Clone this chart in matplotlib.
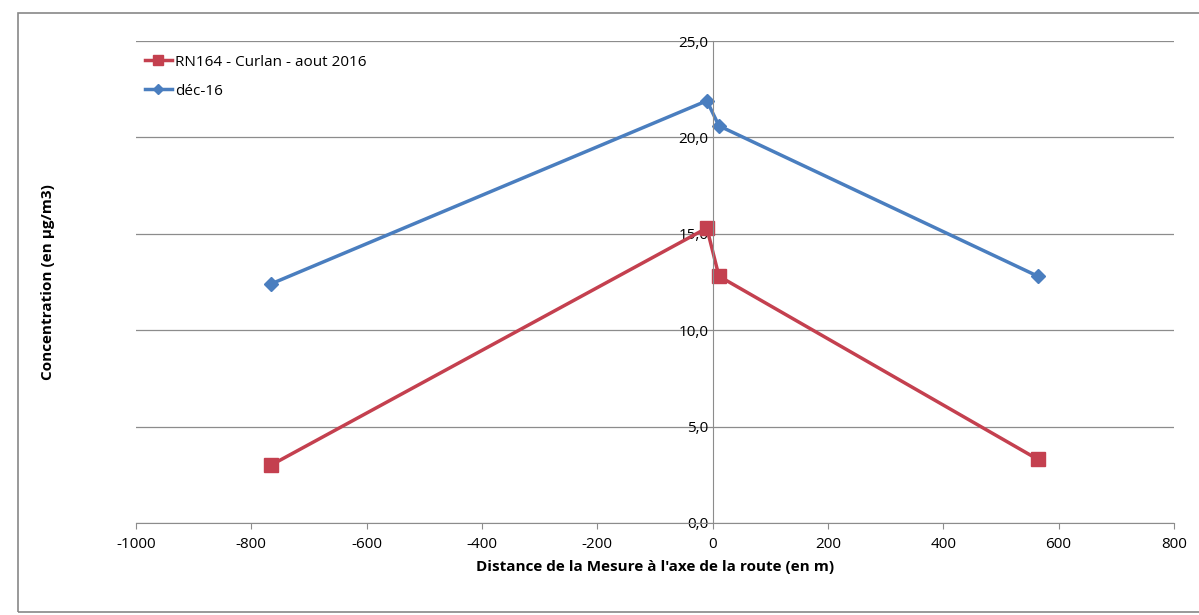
import matplotlib.pyplot as plt
from matplotlib.patches import Rectangle
from matplotlib.ticker import FuncFormatter

# distances to the road axis (m) and concentrations (ug/m3)
distances = [-766, -10, 11, 564]
aout_2016 = [3.0, 15.3, 12.8, 3.3]
dec_2016 = [12.4, 21.9, 20.6, 12.8]

labels = ["RN164 - Curlan - aout 2016", "déc-16"]

plt.rcParams['font.family'] = ['Open Sans', 'DejaVu Sans']
plt.rcParams['axes.unicode_minus'] = False

fig = plt.figure(figsize=(11.99, 6.15), dpi=100)
ax = fig.add_axes([0.1134, 0.1496, 0.8657, 0.7837])

# frame round the chart area
fig.patches.append(Rectangle((0.015, 0.005), 0.99, 0.974, transform=fig.transFigure,
                             fill=False, edgecolor='#888888', linewidth=1.2))

ax.plot(distances, aout_2016, color='#C4404F', lw=2.5, marker='s', markersize=10,
        label=labels[0])
ax.plot(distances, dec_2016, color='#4A7EBF', lw=2.5, marker='D', markersize=7,
        label=labels[1])

ax.set_xlim(-1000, 800)
ax.set_ylim(0, 25)
ax.set_xticks(range(-1000, 801, 200))
ax.set_yticks([0, 5, 10, 15, 20, 25])
ax.yaxis.set_major_formatter(FuncFormatter(lambda v, p: f"{v:.1f}".replace('.', ',')))

ax.grid(axis='y', color='#8c8c8c', lw=0.9)
ax.set_axisbelow(True)
for s in ['top', 'right']:
    ax.spines[s].set_visible(False)
ax.spines['left'].set_position(('data', 0))
ax.spines['left'].set_color('#8c8c8c')
ax.spines['bottom'].set_color('#8c8c8c')
ax.tick_params(axis='both', colors='#8c8c8c', labelcolor='black', labelsize=11, length=4)
ax.tick_params(axis='y', length=0, pad=3)
ax.tick_params(axis='x', pad=6)

ax.set_xlabel("Distance de la Mesure à l'axe de la route (en m)", fontsize=11,
              fontweight='bold', labelpad=6)
ax.set_ylabel("Concentration (en µg/m3)", fontsize=11, fontweight='bold')
ax.yaxis.set_label_coords(-0.078, 0.5)

ax.legend(loc='upper left', bbox_to_anchor=(-0.005, 1.0), frameon=False, fontsize=11,
          handlelength=1.8, handletextpad=0.2, labelspacing=0.9, markerscale=0.75)

fig.savefig('out.png', dpi=100)
